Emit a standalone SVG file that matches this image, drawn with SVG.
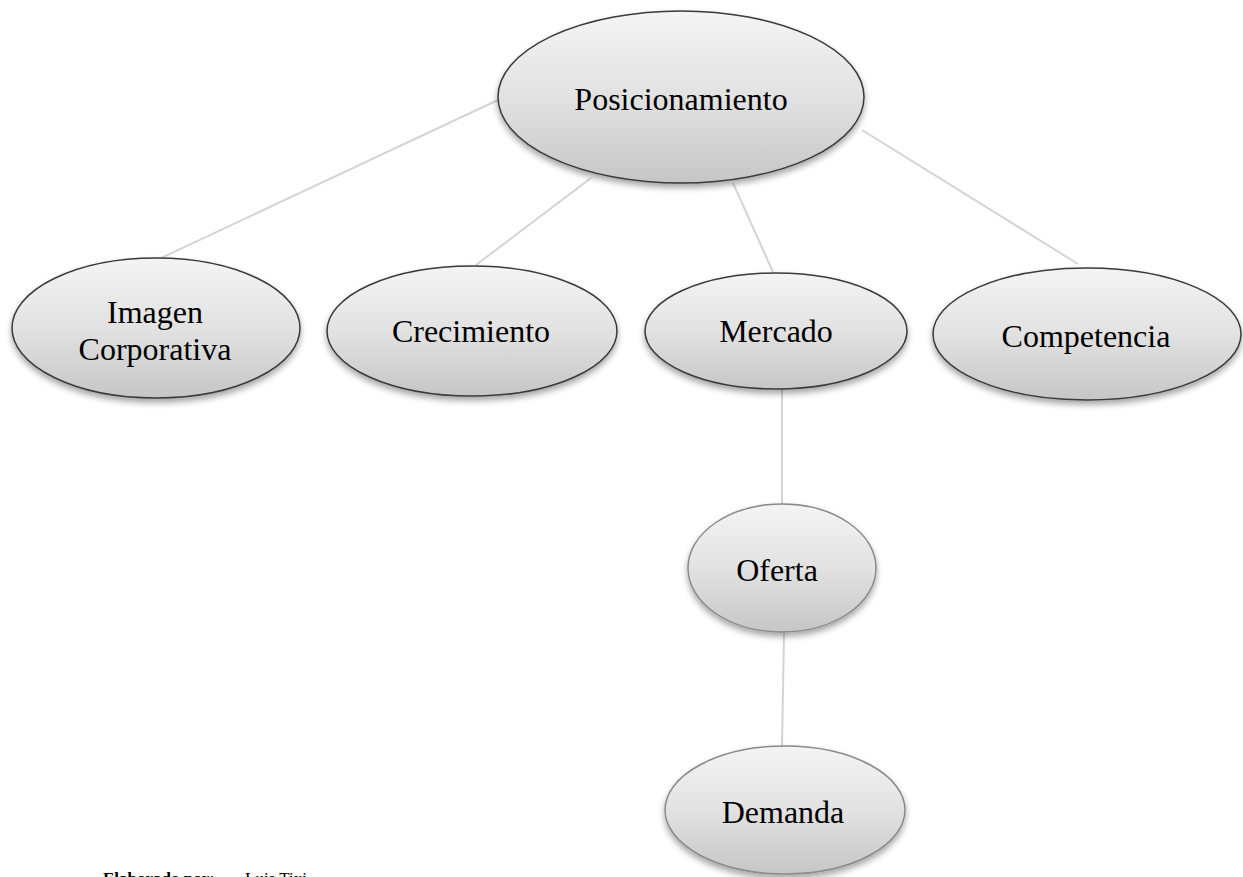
<svg xmlns="http://www.w3.org/2000/svg" width="1243" height="877" viewBox="0 0 1243 877">
<defs>
<linearGradient id="g" x1="0" y1="0" x2="0" y2="1">
<stop offset="0" stop-color="#f4f4f4"/>
<stop offset="0.5" stop-color="#e2e2e2"/>
<stop offset="1" stop-color="#c6c6c6"/>
</linearGradient>
<filter id="sh" x="-20%" y="-20%" width="140%" height="150%">
<feDropShadow dx="0" dy="4" stdDeviation="3" flood-color="#000" flood-opacity="0.35"/>
</filter>
</defs>
<style>
.n{fill:url(#g);stroke:#3a3a3a;stroke-width:1.5;filter:url(#sh)}
.n2{fill:url(#g);stroke:#8a8a8a;stroke-width:1.5;filter:url(#sh)}
.t{font-family:"Liberation Serif","Times New Roman",serif;font-size:32px;fill:#000;text-anchor:middle}
.c{stroke:#d4d4d4;stroke-width:2;fill:none}
.f{font-family:"Liberation Serif","Times New Roman",serif;font-size:17px;fill:#000}
</style>
<rect width="1243" height="877" fill="#fff"/>
<g id="connectors">
<line class="c" x1="498" y1="100" x2="159" y2="259"/>
<line class="c" x1="591" y1="178" x2="476" y2="265"/>
<line class="c" x1="733" y1="183" x2="773" y2="272"/>
<line class="c" x1="862" y1="130" x2="1078" y2="264"/>
<line class="c" x1="782" y1="389" x2="782" y2="504"/>
<line class="c" x1="784" y1="633" x2="782" y2="747"/>
</g>
<g id="posicionamiento">
<ellipse class="n" cx="681" cy="97" rx="183" ry="86"/>
<text class="t" x="681" y="110">Posicionamiento</text>
</g>
<g id="imagen">
<ellipse class="n" cx="156" cy="328" rx="144" ry="70"/>
<text class="t" x="155" y="323">Imagen</text>
<text class="t" x="155" y="360">Corporativa</text>
</g>
<g id="crecimiento">
<ellipse class="n" cx="472" cy="331" rx="145" ry="65"/>
<text class="t" x="471" y="342">Crecimiento</text>
</g>
<g id="mercado">
<ellipse class="n" cx="776" cy="331" rx="131" ry="58"/>
<text class="t" x="776" y="342">Mercado</text>
</g>
<g id="competencia">
<ellipse class="n" cx="1087" cy="334" rx="154" ry="66"/>
<text class="t" x="1086" y="347">Competencia</text>
</g>
<g id="oferta">
<ellipse class="n2" cx="782" cy="568" rx="94" ry="64"/>
<text class="t" x="777" y="581">Oferta</text>
</g>
<g id="demanda">
<ellipse class="n2" cx="785" cy="810" rx="120" ry="64"/>
<text class="t" x="783" y="823">Demanda</text>
</g>
<g id="caption">
<text class="f" x="103" y="884" font-weight="bold">Elaborado por:</text>
<text class="f" x="245" y="884">Luis Tixi</text>
</g>
</svg>
